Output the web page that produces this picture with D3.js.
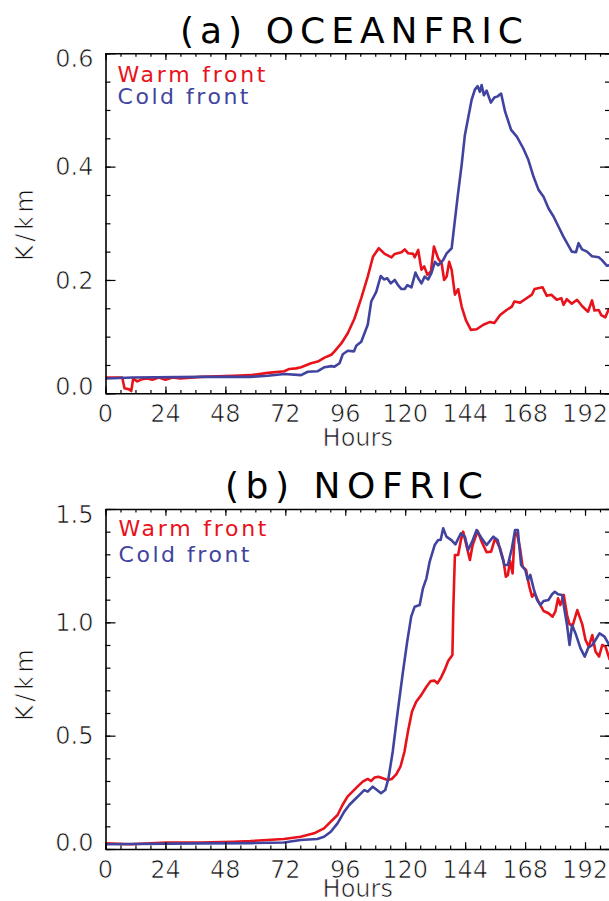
<!DOCTYPE html>
<html>
<head>
<meta charset="utf-8">
<script src="https://cdn.jsdelivr.net/npm/d3@7"></script>
<style>
  body { margin: 0; background: #fff; }
  svg { display: block; }
  /* thin the glyphs a bit, the original uses a stroked vector font */
  .tick-lbl { font-family: "DejaVu Sans", sans-serif; font-size: 24px; fill: #111;
              stroke: #fff; stroke-width: 0.7px; paint-order: normal; }
  .lbl { font-family: "DejaVu Sans", sans-serif; }
</style>
</head>
<body>
<svg id="chart" width="609" height="901"></svg>
<script>
// tick labels
var xTicks = [0, 24, 48, 72, 96, 120, 144, 168, 192];
var yTicksA = [0.0, 0.2, 0.4, 0.6];
var yTicksB = [0.0, 0.5, 1.0, 1.5];

// (a) OCEANFRIC  [hour, K/km]
var warmA = [[0,0.028],[6.7,0.028],[7.6,0.009],[9.4,0.007],[10.3,0.004],[11.1,0.026],[12.7,0.021],[14.7,0.025],
  [16.7,0.026],[18.7,0.024],[21.4,0.028],[24,0.024],[26.8,0.028],[30,0.026],[38,0.029],[51.5,0.031],[58,0.032],
  [65,0.036],[71.6,0.039],[73.6,0.043],[76.3,0.044],[78.3,0.046],[82.3,0.053],[85,0.056],[87.7,0.063],[90.4,0.068],
  [91.7,0.074],[94.4,0.088],[97,0.106],[99.7,0.132],[102.4,0.168],[105,0.206],[107.1,0.241],[109.4,0.256],
  [111.8,0.246],[114.5,0.240],[115.8,0.246],[118.5,0.249],[119.8,0.254],[121.2,0.247],[123.2,0.246],[123.8,0.240],
  [125.2,0.253],[126.5,0.218],[127.6,0.224],[128.9,0.209],[130.3,0.215],[131.5,0.259],[133.2,0.238],[134.6,0.229],
  [135.6,0.200],[136.6,0.206],[137.6,0.232],[138.6,0.218],[139.9,0.174],[141.2,0.184],[142.6,0.153],[144.3,0.129],
  [146.3,0.112],[148.6,0.113],[151.3,0.121],[154,0.126],[155.7,0.124],[158,0.138],[160.6,0.147],[162.7,0.153],
  [163.7,0.162],[166,0.160],[168,0.166],[170.7,0.174],[171.8,0.184],[175,0.187],[176.7,0.172],[178.5,0.174],
  [180.7,0.165],[182.5,0.168],[183.4,0.156],[184.7,0.166],[186.7,0.158],[188.8,0.165],[190.8,0.154],[193.2,0.144],
  [194.8,0.164],[195.8,0.146],[197.5,0.147],[198.5,0.138],[200.1,0.134],[201.7,0.150]];
var coldA = [[0,0.026],[11,0.028],[38,0.029],[51.5,0.029],[58,0.029],[65,0.031],[71.6,0.034],[78.3,0.032],[81,0.038],
  [85,0.039],[87.7,0.046],[90.4,0.048],[91.7,0.047],[93.7,0.053],[95,0.069],[97,0.075],[99.5,0.074],[100.4,0.084],
  [102.4,0.091],[105,0.121],[106.4,0.162],[108.4,0.179],[110.2,0.207],[111.5,0.201],[112.8,0.203],[114.2,0.194],
  [115.8,0.200],[117.1,0.191],[118.5,0.184],[119.8,0.184],[120.9,0.191],[122.5,0.187],[124.1,0.213],[125.2,0.203],
  [126.5,0.194],[127.8,0.206],[129.2,0.201],[130.5,0.212],[131.9,0.232],[133.2,0.226],[135.2,0.235],[136.6,0.247],
  [138.6,0.256],[139.6,0.294],[141,0.347],[142.6,0.403],[143.9,0.456],[145.3,0.488],[146.6,0.518],[147.9,0.536],
  [149,0.542],[149.9,0.532],[150.6,0.544],[151.5,0.526],[152.6,0.534],[154.3,0.513],[155.7,0.522],[157,0.524],
  [158.4,0.529],[160,0.497],[162.4,0.465],[164.7,0.453],[167.3,0.432],[169.3,0.412],[171.4,0.382],[173.4,0.359],
  [175.4,0.347],[177.4,0.326],[179.4,0.312],[181.4,0.294],[183.4,0.276],[185.2,0.262],[186.7,0.250],[188.4,0.249],
  [189.4,0.265],[190.8,0.254],[192.8,0.250],[194.8,0.242],[197.5,0.240],[198.8,0.235],[200.8,0.225],[202,0.226]];

// (b) NOFRIC
var warmB = [[0,0.025],[9.7,0.021],[24.4,0.028],[37.9,0.029],[51.3,0.032],[58,0.035],[64.7,0.040],[71.4,0.044],
  [78.1,0.054],[83.5,0.069],[87.5,0.091],[90.2,0.121],[92.9,0.150],[94.9,0.194],[96.9,0.231],[98.9,0.253],
  [100.9,0.275],[103,0.297],[105,0.309],[106.3,0.300],[107.7,0.315],[109.3,0.319],[111,0.312],[113,0.304],
  [114.6,0.309],[116.4,0.329],[118.1,0.363],[119.7,0.429],[121.1,0.518],[122.7,0.606],[124.4,0.650],[126.4,0.679],
  [128.5,0.716],[130.2,0.741],[131.8,0.743],[132.9,0.731],[134.2,0.753],[135.8,0.790],[137.2,0.829],[138.9,0.856],
  [139.3,1.076],[139.9,1.297],[141.2,1.297],[142.3,1.363],[143.2,1.400],[144.3,1.349],[145.9,1.275],[147,1.341],
  [149,1.403],[150.6,1.356],[152.6,1.309],[154.4,1.312],[156,1.371],[158,1.326],[159.3,1.275],[160.3,1.201],
  [161.1,1.209],[162,1.271],[163,1.216],[163.8,1.385],[164.7,1.393],[166,1.326],[167,1.246],[168.4,1.231],
  [169.7,1.157],[170.8,1.113],[171.8,1.128],[173.4,1.091],[175.4,1.050],[177.4,1.040],[179,1.025],[180.1,1.047],
  [181.2,1.106],[182.1,1.076],[183.5,1.121],[184.8,1.032],[185.8,0.991],[187.1,0.988],[188.9,1.054],[190.9,0.991],
  [192.2,0.922],[193.5,0.893],[194.9,0.944],[196.2,0.871],[197.6,0.849],[198.9,0.900],[200.2,0.893],[201.9,0.834]];
var coldB = [[0,0.021],[37.9,0.025],[58,0.026],[71.4,0.029],[78.1,0.040],[84.8,0.044],[87.5,0.054],[90.2,0.076],
  [92.9,0.113],[95.6,0.165],[97.6,0.194],[99.6,0.216],[101.6,0.238],[103.6,0.260],[105,0.253],[107,0.275],
  [108.7,0.260],[110.3,0.246],[112,0.260],[113.3,0.312],[115,0.429],[117,0.606],[119.1,0.782],[120.8,0.915],
  [122.4,1.025],[123.8,1.069],[125.8,1.076],[127.1,1.150],[128.5,1.194],[129.8,1.268],[131.8,1.341],[133.2,1.363],
  [134.2,1.363],[135.2,1.415],[136.5,1.378],[138.5,1.363],[140.1,1.344],[142.3,1.393],[143.9,1.378],[145.2,1.319],
  [146.8,1.356],[148.6,1.407],[150.6,1.371],[152.6,1.341],[153.9,1.359],[155.3,1.378],[157,1.363],[158.4,1.304],
  [159.7,1.253],[161.1,1.253],[162.7,1.326],[164,1.407],[165.1,1.407],[166.4,1.253],[168.1,1.231],[169.1,1.187],
  [170.1,1.209],[171.4,1.150],[172.8,1.099],[174.1,1.076],[175.4,1.094],[177.4,1.099],[178.8,1.124],[179.9,1.135],
  [181.2,1.124],[182.8,1.121],[183.9,1.047],[184.8,0.988],[185.8,0.900],[186.8,0.988],[188.2,0.951],[190.2,0.885],
  [191.9,0.849],[193.3,0.888],[194.9,0.900],[196.2,0.922],[197.8,0.951],[199.8,0.937],[201.1,0.912],[202.4,0.885]];

var RED = '#e8121b';
var BLUE = '#40449e';

var svg = d3.select('svg#chart');
svg.append('rect').attr('width', 609).attr('height', 901).attr('fill', '#fff');

var panels = [
  { id: 'a', title: '(a) OCEANFRIC', top: 53.3, bottom: 393.3, yMax: 0.6, yTicks: yTicksA, yMinor: 0.05,
    titleX: 180, titleW: 343, titleY: 43, legX: 117.5, legY: [82, 104], warm: warmA, cold: coldA,
    ylabY: 225, hoursY: 446 },
  { id: 'b', title: '(b) NOFRIC', top: 509, bottom: 849, yMax: 1.5, yTicks: yTicksB, yMinor: 0.1,
    titleX: 225, titleW: 258, titleY: 498, legX: 118.5, legY: [536, 562], warm: warmB, cold: coldB,
    ylabY: 685, hoursY: 897 }
];

var left = 105.5, right = 610;

panels.forEach(function (p) {
  var x = d3.scaleLinear().domain([0, 202]).range([left, right]);
  var y = d3.scaleLinear().domain([0, p.yMax]).range([p.bottom, p.top]);

  var xMinor = d3.range(0, 202, 6);
  var yMinor = d3.range(0, p.yMax + 1e-6, p.yMinor).map(function (v) { return +v.toFixed(3); });

  var g = svg.append('g').attr('id', 'panel-' + p.id);

  // clip
  g.append('clipPath').attr('id', 'clip-' + p.id)
    .append('rect').attr('x', left).attr('y', p.top).attr('width', right - left).attr('height', p.bottom - p.top);

  var line = d3.line().x(d => x(d[0])).y(d => y(d[1]));

  var lines = g.append('g').attr('clip-path', 'url(#clip-' + p.id + ')');
  lines.append('path').datum(p.warm)
    .attr('d', line).style('fill', 'none').style('stroke', RED).style('stroke-width', 2.6).style('stroke-linejoin', 'round');
  lines.append('path').datum(p.cold)
    .attr('d', line).style('fill', 'none').style('stroke', BLUE).style('stroke-width', 2.6).style('stroke-linejoin', 'round');

  // box with inward ticks on all four sides
  var axes = [
    [d3.axisBottom(x), 'translate(0,' + p.bottom + ')', xTicks, xMinor, 6.8],
    [d3.axisTop(x), 'translate(0,' + p.top + ')', xTicks, xMinor, 6.8],
    [d3.axisLeft(y), 'translate(' + left + ',0)', p.yTicks, yMinor, 10],
    [d3.axisRight(y), 'translate(' + right + ',0)', p.yTicks, yMinor, 10]
  ];
  axes.forEach(function (a) {
    g.append('g').attr('transform', a[1])
      .call(a[0].tickValues(a[3]).tickSize(-a[4] / 2).tickSizeOuter(0).tickFormat(''))
      .call(s => s.select('.domain').style('stroke', '#000').style('stroke-width', 1.6))
      .call(s => s.selectAll('.tick line').style('stroke', '#000').style('stroke-width', 1.2));
    g.append('g').attr('transform', a[1])
      .call(a[0].tickValues(a[2]).tickSize(-a[4]).tickSizeOuter(0).tickFormat(''))
      .call(s => s.select('.domain').remove())
      .call(s => s.selectAll('.tick line').style('stroke', '#000').style('stroke-width', 1.2));
  });

  // tick labels
  g.selectAll('text.xt').data(xTicks).enter().append('text')
    .attr('class', 'tick-lbl xt')
    .attr('x', d => x(d)).attr('y', p.bottom + 28.5)
    .attr('text-anchor', 'middle')
    .text(d => d);

  var yFmt = d3.format('.1f');
  g.selectAll('text.yt').data(p.yTicks).enter().append('text')
    .attr('class', 'tick-lbl yt')
    .attr('x', left - 12)
    .attr('y', function (d, i) {
      var shift = 0;
      if (i === 0) shift = -7;
      if (i === p.yTicks.length - 1) shift = 5;
      return y(d) + shift;
    })
    .attr('dy', '0.36em')
    .attr('text-anchor', 'end')
    .text(d => yFmt(d));

  // titles and labels
  g.append('text').attr('class', 'lbl')
    .attr('x', p.titleX).attr('y', p.titleY)
    .attr('textLength', p.titleW).attr('lengthAdjust', 'spacing')
    .style('font-size', '36px').style('fill', '#000')
    .text(p.title);

  g.append('text').attr('class', 'tick-lbl')
    .attr('x', (left + right) / 2).attr('y', p.hoursY)
    .attr('text-anchor', 'middle')
    .text('Hours');

  g.append('text').attr('class', 'tick-lbl')
    .attr('transform', 'translate(33,' + p.ylabY + ') rotate(-90)')
    .attr('x', -36).attr('y', 0)
    .attr('textLength', 72).attr('lengthAdjust', 'spacing')
    .text('K/km');

  // legend
  g.append('text').attr('class', 'lbl')
    .attr('x', p.legX).attr('y', p.legY[0])
    .attr('textLength', 148).attr('lengthAdjust', 'spacing')
    .style('font-size', '22px').style('fill', RED)
    .text('Warm front');
  g.append('text').attr('class', 'lbl')
    .attr('x', p.legX).attr('y', p.legY[1])
    .attr('textLength', 131).attr('lengthAdjust', 'spacing')
    .style('font-size', '22px').style('fill', BLUE)
    .text('Cold front');
});
</script>
</body>
</html>
